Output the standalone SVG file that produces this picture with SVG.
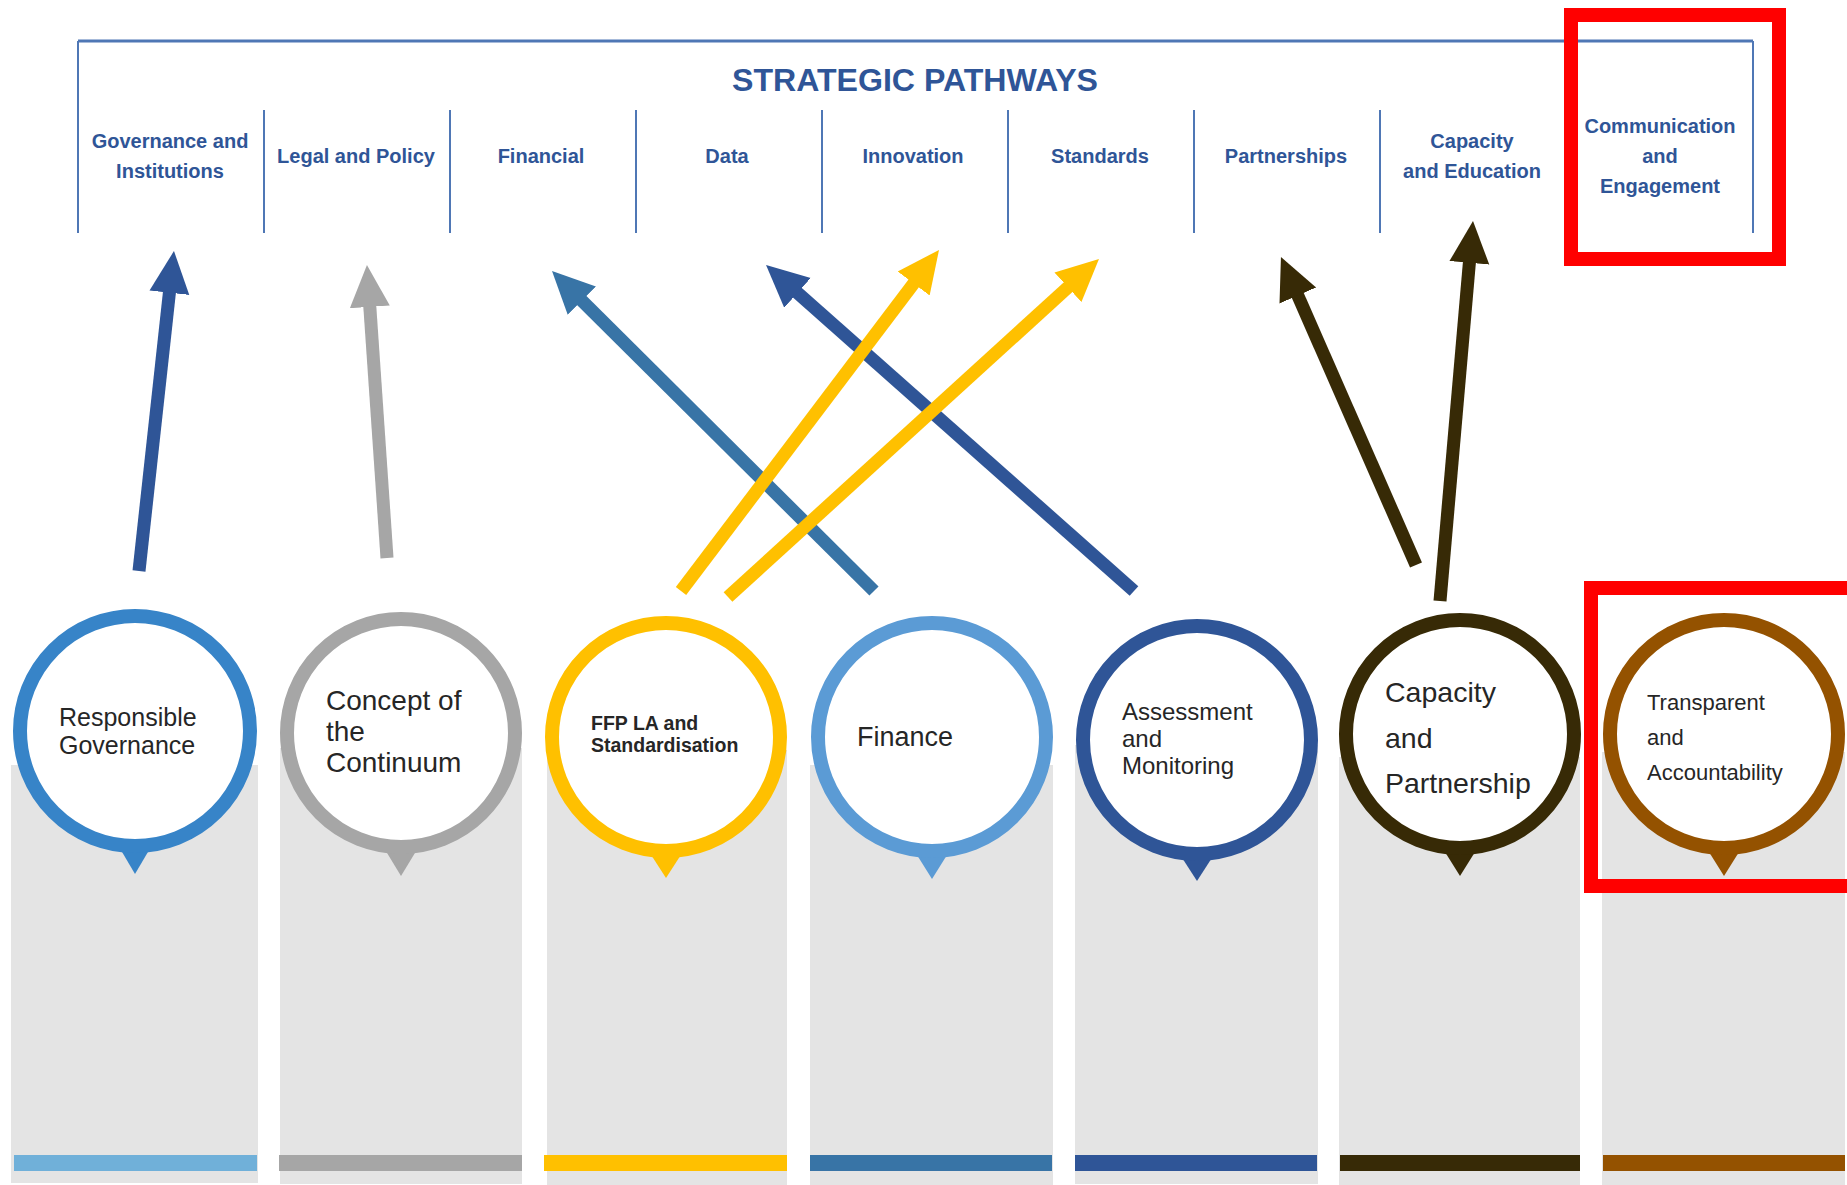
<svg xmlns="http://www.w3.org/2000/svg" width="1847" height="1185" viewBox="0 0 1847 1185">
<style>
.hdr{stroke:#4f77b5;fill:none}
.lbl{font-family:"Liberation Sans",Arial,sans-serif;font-weight:bold;font-size:20px;fill:#2f5597;text-anchor:middle}
.ttl{font-family:"Liberation Sans",Arial,sans-serif;font-weight:bold;font-size:32px;fill:#2f5597;text-anchor:middle}
.bg{fill:#e4e4e4}
.ring{fill:#ffffff;stroke-width:14}
.txt{font-family:"Liberation Sans",Arial,sans-serif;fill:#262626}
.arr{fill:none;stroke-width:13;stroke-linecap:butt}
.hl{fill:none;stroke:#ff0000;stroke-width:14}
</style>
<defs>
<marker id="mDark" markerUnits="userSpaceOnUse" markerWidth="42" markerHeight="42" viewBox="0 0 42 42" refX="12" refY="21" orient="auto"><path d="M0,1 L42,21 L0,41 z" fill="#2f5597"/></marker>
<marker id="mGray" markerUnits="userSpaceOnUse" markerWidth="42" markerHeight="42" viewBox="0 0 42 42" refX="12" refY="21" orient="auto"><path d="M0,1 L42,21 L0,41 z" fill="#a6a6a6"/></marker>
<marker id="mSteel" markerUnits="userSpaceOnUse" markerWidth="42" markerHeight="42" viewBox="0 0 42 42" refX="12" refY="21" orient="auto"><path d="M0,1 L42,21 L0,41 z" fill="#3874a6"/></marker>
<marker id="mYellow" markerUnits="userSpaceOnUse" markerWidth="42" markerHeight="42" viewBox="0 0 42 42" refX="12" refY="21" orient="auto"><path d="M0,1 L42,21 L0,41 z" fill="#ffc000"/></marker>
<marker id="mBrown" markerUnits="userSpaceOnUse" markerWidth="42" markerHeight="42" viewBox="0 0 42 42" refX="12" refY="21" orient="auto"><path d="M0,1 L42,21 L0,41 z" fill="#372a06"/></marker>
</defs>
<rect width="1847" height="1185" fill="#ffffff"/>

<g id="header">
<line class="hdr" x1="78" y1="41" x2="1753" y2="41" stroke-width="3"/>
<line class="hdr" x1="78" y1="41" x2="78" y2="233" stroke-width="2"/>
<line class="hdr" x1="1753" y1="41" x2="1753" y2="233" stroke-width="2"/>
<line class="hdr" x1="264" y1="110" x2="264" y2="233" stroke-width="2"/>
<line class="hdr" x1="450" y1="110" x2="450" y2="233" stroke-width="2"/>
<line class="hdr" x1="636" y1="110" x2="636" y2="233" stroke-width="2"/>
<line class="hdr" x1="822" y1="110" x2="822" y2="233" stroke-width="2"/>
<line class="hdr" x1="1008" y1="110" x2="1008" y2="233" stroke-width="2"/>
<line class="hdr" x1="1194" y1="110" x2="1194" y2="233" stroke-width="2"/>
<line class="hdr" x1="1380" y1="110" x2="1380" y2="233" stroke-width="2"/>
<line class="hdr" x1="1566" y1="110" x2="1566" y2="233" stroke-width="2"/>
<text class="ttl" x="915" y="91" textLength="366" lengthAdjust="spacingAndGlyphs">STRATEGIC PATHWAYS</text>
</g>

<g id="path-governance"><text class="lbl" x="170" y="148">Governance and</text><text class="lbl" x="170" y="178">Institutions</text></g>
<g id="path-legal"><text class="lbl" x="356" y="163">Legal and Policy</text></g>
<g id="path-financial"><text class="lbl" x="541" y="163">Financial</text></g>
<g id="path-data"><text class="lbl" x="727" y="163">Data</text></g>
<g id="path-innovation"><text class="lbl" x="913" y="163">Innovation</text></g>
<g id="path-standards"><text class="lbl" x="1100" y="163">Standards</text></g>
<g id="path-partnerships"><text class="lbl" x="1286" y="163">Partnerships</text></g>
<g id="path-capacity"><text class="lbl" x="1472" y="148">Capacity</text><text class="lbl" x="1472" y="178">and Education</text></g>
<g id="path-communication"><text class="lbl" x="1660" y="133">Communication</text><text class="lbl" x="1660" y="163">and</text><text class="lbl" x="1660" y="193">Engagement</text></g>

<g id="node-responsible-governance">
<rect class="bg" x="11" y="765" width="247" height="418"/>
<rect x="14" y="1155" width="243" height="16" fill="#70b0d9"/>
<path d="M115,840 L155,840 L135,874 z" fill="#3784c8"/>
<circle class="ring" cx="135" cy="731" r="115" stroke="#3784c8"/>
<text class="txt" font-size="25"><tspan x="59" y="726">Responsible</tspan><tspan x="59" y="754">Governance</tspan></text>
</g>

<g id="node-concept-continuum">
<rect class="bg" x="280" y="748" width="242" height="436"/>
<rect x="279" y="1155" width="243" height="16" fill="#a6a6a6"/>
<path d="M381,843 L421,843 L401,876 z" fill="#a6a6a6"/>
<circle class="ring" cx="401" cy="733" r="114" stroke="#a6a6a6"/>
<text class="txt" font-size="28"><tspan x="326" y="710">Concept of</tspan><tspan x="326" y="741">the</tspan><tspan x="326" y="772">Continuum</tspan></text>
</g>

<g id="node-ffp-la">
<rect class="bg" x="547" y="750" width="240" height="435"/>
<rect x="544" y="1155" width="243" height="16" fill="#ffc000"/>
<path d="M646,847 L686,847 L666,878 z" fill="#ffc000"/>
<circle class="ring" cx="666" cy="737" r="114" stroke="#ffc000"/>
<text class="txt" font-size="19.5" font-weight="bold"><tspan x="591" y="730">FFP LA and</tspan><tspan x="591" y="752">Standardisation</tspan></text>
</g>

<g id="node-finance">
<rect class="bg" x="810" y="765" width="243" height="420"/>
<rect x="810" y="1155" width="242" height="16" fill="#3874a6"/>
<path d="M912,847 L952,847 L932,879 z" fill="#5b9bd5"/>
<circle class="ring" cx="932" cy="737" r="114" stroke="#5b9bd5"/>
<text class="txt" font-size="27" x="857" y="746">Finance</text>
</g>

<g id="node-assessment">
<rect class="bg" x="1075" y="745" width="243" height="439"/>
<rect x="1075" y="1155" width="242" height="16" fill="#2f5597"/>
<path d="M1177,850 L1217,850 L1197,881 z" fill="#2f5597"/>
<circle class="ring" cx="1197" cy="740" r="114" stroke="#2f5597"/>
<text class="txt" font-size="24"><tspan x="1122" y="720">Assessment</tspan><tspan x="1122" y="747">and</tspan><tspan x="1122" y="774">Monitoring</tspan></text>
</g>

<g id="node-capacity-partnership">
<rect class="bg" x="1339" y="757" width="241" height="428"/>
<rect x="1340" y="1155" width="240" height="16" fill="#372a06"/>
<path d="M1440,844 L1480,844 L1460,876 z" fill="#372a06"/>
<circle class="ring" cx="1460" cy="734" r="114" stroke="#372a06"/>
<text class="txt" font-size="28.5"><tspan x="1385" y="702">Capacity</tspan><tspan x="1385" y="748">and</tspan><tspan x="1385" y="793">Partnership</tspan></text>
</g>

<g id="node-transparent">
<rect class="bg" x="1602" y="752" width="243" height="433"/>
<rect x="1603" y="1155" width="242" height="16" fill="#945200"/>
<path d="M1704,844 L1744,844 L1724,876 z" fill="#945200"/>
<circle class="ring" cx="1724" cy="734" r="114" stroke="#945200"/>
<text class="txt" font-size="22"><tspan x="1647" y="710">Transparent</tspan><tspan x="1647" y="745">and</tspan><tspan x="1647" y="780">Accountability</tspan></text>
</g>

<g id="connectors">
<line class="arr" x1="139" y1="571" x2="170.7" y2="280.8" stroke="#2f5597" marker-end="url(#mDark)"/>
<line class="arr" x1="387" y1="558" x2="369" y2="294.9" stroke="#a6a6a6" marker-end="url(#mGray)"/>
<line class="arr" x1="874" y1="591" x2="573.3" y2="292.1" stroke="#3874a6" marker-end="url(#mSteel)"/>
<line class="arr" x1="1134" y1="591" x2="788.5" y2="284.9" stroke="#2f5597" marker-end="url(#mDark)"/>
<line class="arr" x1="1416" y1="565" x2="1293" y2="284.5" stroke="#372a06" marker-end="url(#mBrown)"/>
<line class="arr" x1="1440" y1="601" x2="1470.4" y2="250.9" stroke="#372a06" marker-end="url(#mBrown)"/>
<line class="arr" x1="681" y1="591" x2="920.9" y2="273.9" stroke="#ffc000" marker-end="url(#mYellow)"/>
<line class="arr" x1="728" y1="597" x2="1076.8" y2="279.2" stroke="#ffc000" marker-end="url(#mYellow)"/>
</g>

<g id="highlights">
<rect class="hl" x="1571" y="15" width="208" height="244"/>
<rect class="hl" x="1591" y="588" width="270" height="298"/>
</g>
</svg>
